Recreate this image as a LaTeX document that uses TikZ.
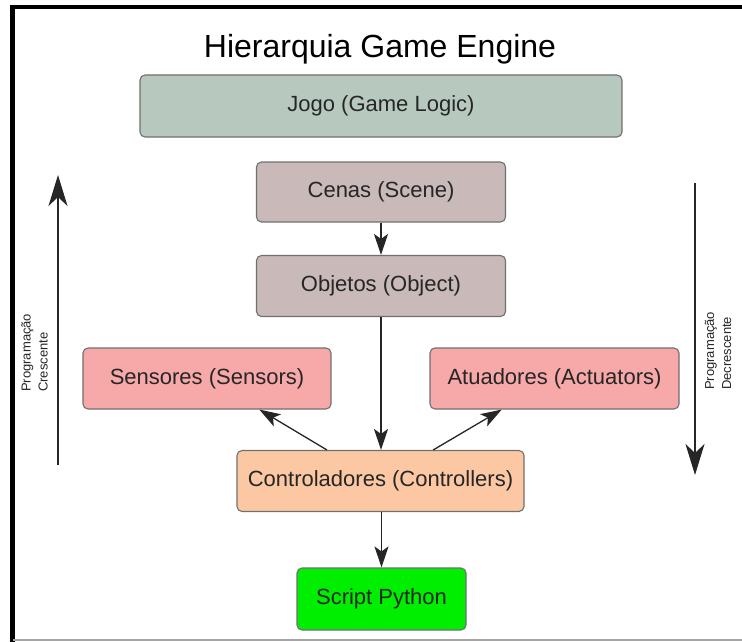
\documentclass[tikz,border=0pt]{standalone}
\usepackage{fontspec}
\setmainfont{Liberation Sans}
\usetikzlibrary{arrows.meta,calc}

\definecolor{gamefill}{HTML}{B7C9BF}
\definecolor{scenefill}{HTML}{C9B9B9}
\definecolor{sensorfill}{HTML}{F7A8A8}
\definecolor{ctrlfill}{HTML}{FBC8A3}
\definecolor{scriptfill}{HTML}{00EE00}
\definecolor{boxline}{HTML}{707070}
\definecolor{textdark}{HTML}{262626}

\tikzset{
  box/.style={draw=boxline, line width=1.1pt, rounded corners=5pt,
    inner sep=0pt, text=textdark, font=\fontsize{22}{26}\selectfont},
  linkarrow/.style={draw=black!85, line width=1.3pt,
    -{Stealth[length=21pt,width=14pt,inset=5pt]}},
  levelarrow/.style={draw=black!85, line width=1.6pt,
    -{Stealth[length=31pt,width=19pt,inset=9pt]}},
  sidelabel/.style={rotate=90, anchor=west, align=left, inner sep=0pt,
    font=\fontsize{13}{17}\selectfont, text=textdark},
}

\begin{document}
\begin{tikzpicture}[x=1pt,y=-1pt]
  \useasboundingbox (0,0) rectangle (742,642);
  \fill[white] (0,0) rectangle (742,642);

  % frame
  \draw[black, line width=4.5pt] (742,7) -- (12.5,7) -- (12.5,642);
  \draw[black!35, line width=1.5pt] (12.5,640) -- (742,640);

  % title
  \node[anchor=base, inner sep=0pt, font=\fontsize{32}{38}\selectfont]
    (title) at (380,58) {Hierarquia Game Engine};

  % hierarchy boxes
  \node[box, fill=gamefill, minimum width=482pt, minimum height=62pt]
    (jogo) at (381,106) {Jogo (Game Logic)};
  \node[box, fill=scenefill, minimum width=249pt, minimum height=60pt]
    (cenas) at (381,192) {Cenas (Scene)};
  \node[box, fill=scenefill, minimum width=249pt, minimum height=61pt]
    (objetos) at (381,286) {Objetos (Object)};
  \node[box, fill=sensorfill, minimum width=248pt, minimum height=61pt]
    (sensores) at (207,378.5) {Sensores (Sensors)};
  \node[box, fill=sensorfill, minimum width=249pt, minimum height=61pt]
    (atuadores) at (554.5,378.5) {Atuadores (Actuators)};
  \node[box, fill=ctrlfill, minimum width=287pt, minimum height=61pt]
    (controle) at (380.5,481) {Controladores (Controllers)};
  \node[box, fill=scriptfill, text=black!85, minimum width=169pt, minimum height=62pt]
    (script) at (381.5,599) {Script Python};

  % links
  \draw[linkarrow] (cenas) -- (objetos);
  \draw[linkarrow] (objetos.south) -- (objetos.south |- controle.north);
  \draw[linkarrow] ($(controle.north west)!0.314!(controle.north east)$)
    -- ($(sensores.south west)!0.71!(sensores.south east)$);
  \draw[linkarrow] ($(controle.north west)!0.683!(controle.north east)$)
    -- ($(atuadores.south west)!0.289!(atuadores.south east)$);
  \draw[linkarrow] (controle.south -| script.north) -- (script.north);

  % programming direction arrows
  \coordinate (upfoot) at (58,465);
  \coordinate (uphead) at (58,175);
  \coordinate (downfoot) at (695,183);
  \coordinate (downhead) at (695,475);
  \draw[levelarrow] (upfoot) -- (uphead);
  \draw[levelarrow] (downfoot) -- (downhead);

  \node[sidelabel] (crescente) at (34.5,392) {Programação\\Crescente};
  \node[sidelabel] (decrescente) at (718,390) {Programação\\Decrescente};
\end{tikzpicture}
\end{document}
